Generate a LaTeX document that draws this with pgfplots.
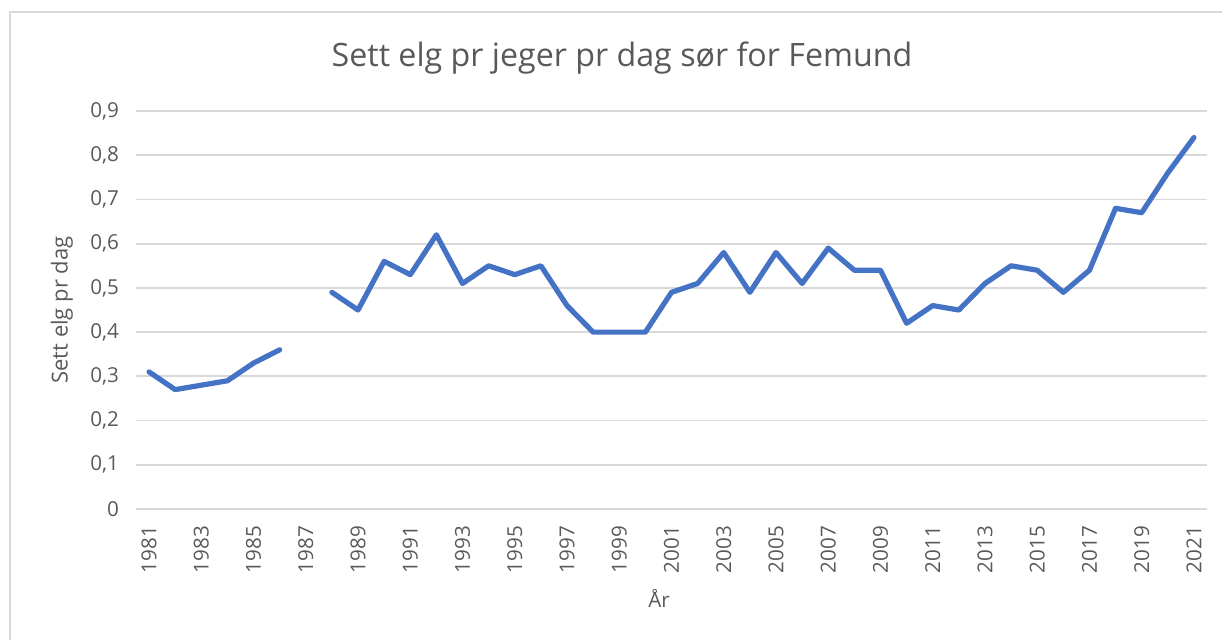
\documentclass[border=0pt]{standalone}
\usepackage{pgfplots}
\pgfplotsset{compat=1.18}
\usepackage{fontspec}
\setmainfont{Open Sans}
\definecolor{txt}{HTML}{595959}
\definecolor{gridc}{HTML}{D9D9D9}
\definecolor{serie}{HTML}{4472C4}
\begin{document}
\begin{tikzpicture}
\useasboundingbox (-68pt,-65pt) rectangle (543pt,254.5pt);
\draw[gridc, line width=0.8pt] (-63pt,-80pt) -- (-63pt,248.5pt) -- (560pt,248.5pt);
\begin{axis}[
  at={(0pt,0pt)}, anchor=south west,
  scale only axis, width=535.5pt, height=199pt,
  xmin=1980.5, xmax=2021.5, ymin=0, ymax=0.9,
  xtick={1981,1983,...,2021},
  ytick={0,0.1,...,0.9},
  major tick length=0pt,
  axis line style={draw=none},
  ymajorgrids, grid style={gridc, line width=0.9pt},
  unbounded coords=jump,
  /pgf/number format/assume math mode=true,
  tick label style={font=\fontsize{10.3}{12}\selectfont, text=txt},
  xticklabel style={rotate=90, anchor=east, /pgf/number format/set thousands separator={}},
  yticklabel style={/pgf/number format/.cd, use comma, fixed, precision=1},
  yticklabel={\ifdim\tick pt=0pt 0\else\pgfmathprintnumber{\tick}\fi},
  xtick pos=bottom, ytick pos=left,
  xticklabel shift=5pt, yticklabel shift=5pt,
  clip=false,
]
\addplot[serie, line width=2.6pt, line join=round, line cap=round] coordinates {
(1981,0.31) (1982,0.27) (1983,0.28) (1984,0.29) (1985,0.33) (1986,0.36) (1987,nan)
(1988,0.49) (1989,0.45) (1990,0.56) (1991,0.53) (1992,0.62) (1993,0.51) (1994,0.55)
(1995,0.53) (1996,0.55) (1997,0.46) (1998,0.40) (1999,0.40) (2000,0.40) (2001,0.49)
(2002,0.51) (2003,0.58) (2004,0.49) (2005,0.58) (2006,0.51) (2007,0.59) (2008,0.54)
(2009,0.54) (2010,0.42) (2011,0.46) (2012,0.45) (2013,0.51) (2014,0.55) (2015,0.54)
(2016,0.49) (2017,0.54) (2018,0.68) (2019,0.67) (2020,0.76) (2021,0.84)
};
\end{axis}
\node[text=txt, font=\fontsize{16.1}{19}\selectfont] at (243pt,225.5pt) {Sett elg pr jeger pr dag sør for Femund};
\node[text=txt, font=\fontsize{11}{13}\selectfont, rotate=90] at (-37pt,99.5pt) {Sett elg pr dag};
\node[text=txt, font=\fontsize{10.3}{12}\selectfont] at (261.5pt,-44.5pt) {År};
\end{tikzpicture}
\end{document}
